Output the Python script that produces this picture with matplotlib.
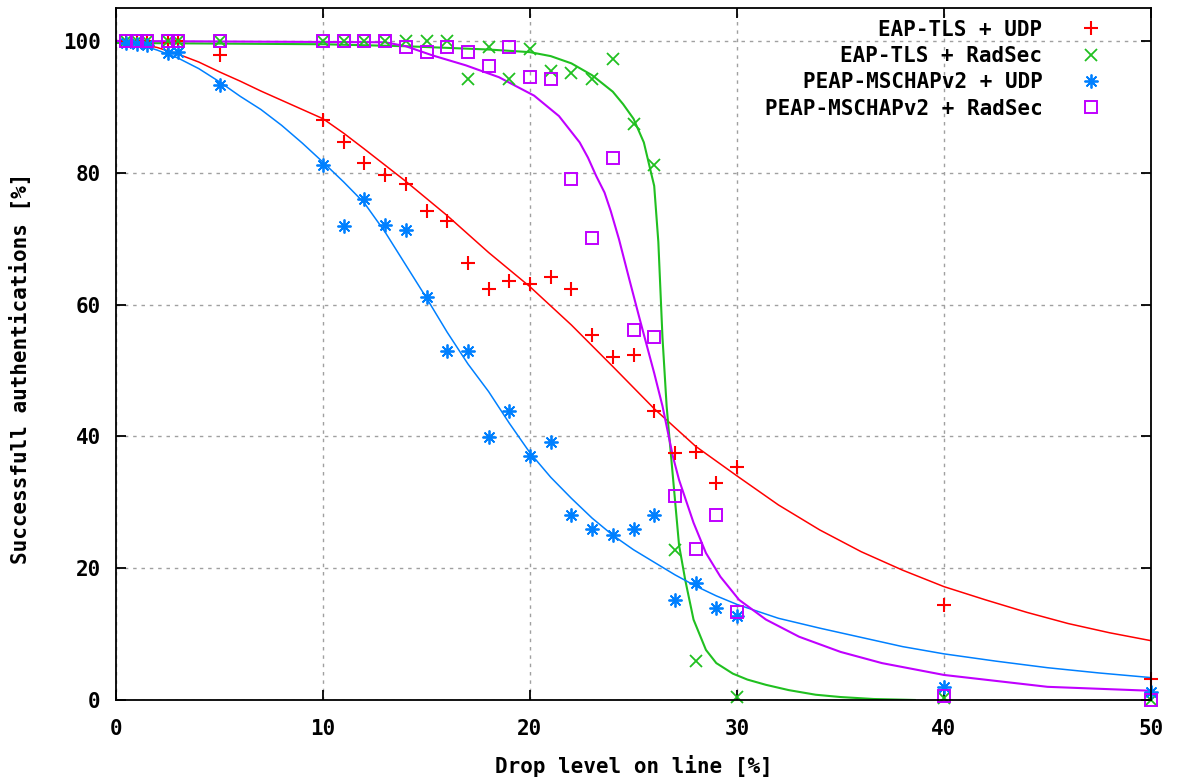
import matplotlib.pyplot as plt

# measured points (drop level %, successful auths %)
drop = [0.5, 1, 1.5, 2.5, 3, 5, 10, 11, 12, 13, 14, 15, 16, 17, 18, 19, 20,
        21, 22, 23, 24, 25, 26, 27, 28, 29, 30, 40, 50]
drop_tls_radsec = [0.5, 1, 1.5, 2.5, 3, 5, 10, 11, 12, 13, 14, 15, 16, 17, 18,
                   19, 20, 21, 22, 23, 24, 25, 26, 27, 28, 30, 40, 50]

tls_udp = [100, 100, 100, 99.7, 100, 97.8, 88.0, 84.6, 81.5, 79.7, 78.3, 74.2,
           72.7, 66.3, 62.3, 63.6, 63.1, 64.2, 62.3, 55.4, 52.1, 52.3, 43.9,
           37.5, 37.6, 32.9, 35.4, 14.4, 3.2]
tls_radsec = [100, 100, 100, 100, 100, 100, 100, 100, 100, 100, 100, 100, 100,
              94.3, 99.1, 94.2, 98.8, 95.5, 95.2, 94.2, 97.3, 87.4, 81.2, 22.8,
              5.9, 0.5, 0.3, 0]
peap_udp = [99.7, 99.6, 99.4, 98.1, 98.3, 93.3, 81.2, 71.9, 76.0, 72.0, 71.3,
            61.2, 52.9, 52.9, 39.9, 43.9, 37.0, 39.1, 28.1, 25.9, 25.1, 25.9,
            28.1, 15.2, 17.7, 13.9, 12.7, 2.0, 1.2]
peap_radsec = [100, 100, 100, 100, 100, 100, 100, 100, 100, 100, 99.1, 98.3,
               99.1, 98.3, 96.2, 99.1, 94.6, 94.3, 79.1, 70.1, 82.2, 56.1, 55.1,
               30.9, 22.9, 28.1, 13.3, 0.6, 0]

# fitted curves
fit_tls_udp_x = [0, 1, 2, 3, 4, 5, 6, 7, 8, 9, 10, 11, 12, 14, 16, 18, 20,
                 22, 24, 26, 28, 30, 32, 34, 36, 38, 40, 42, 44, 46, 48, 50]
fit_tls_udp_y = [100, 99.7, 99.0, 98.0, 96.8, 95.3, 93.9, 92.4, 91.0, 89.6,
                 88.2, 86.0, 83.6, 78.7, 73.5, 67.9, 62.7, 56.9, 50.6, 44.2,
                 38.5, 34.0, 29.6, 25.8, 22.5, 19.7, 17.2, 15.2, 13.3, 11.6,
                 10.2, 9.0]

fit_tls_radsec_x = [0, 10, 14, 18, 20, 21, 22, 23, 24, 24.5, 25, 25.5, 26,
                    26.2, 26.4, 26.6, 26.8, 27.0, 27.2, 27.5, 27.9, 28.5, 29,
                    29.8, 30.5, 31.4, 32.5, 33.8, 35, 36.6, 38.6]
fit_tls_radsec_y = [99.7, 99.5, 99.2, 98.7, 98.3, 97.7, 96.6, 94.8, 92.3, 90.4,
                    88.2, 84.6, 78.0, 69.5, 55.0, 44.6, 37.5, 30.5, 23.5, 18.2,
                    12.2, 7.6, 5.6, 4.0, 3.1, 2.3, 1.5, 0.8, 0.45, 0.15, 0.0]

fit_peap_udp_x = [0, 1, 2, 3, 4, 5, 6, 7, 8, 9, 10, 11, 12, 13, 14, 15, 16,
                  17, 18, 19, 20, 21, 22, 23, 24, 25, 26, 27, 28, 29, 30, 32,
                  34, 36, 38, 40, 42.5, 45, 47.5, 50]
fit_peap_udp_y = [100, 99.6, 98.6, 97.4, 95.8, 93.8, 91.6, 89.6, 87.2, 84.5,
                  81.6, 78.6, 75.4, 71.0, 66.0, 61.0, 55.8, 51.0, 46.8, 42.0,
                  37.5, 33.8, 30.6, 27.6, 25.0, 22.8, 20.9, 19.0, 17.3, 15.8,
                  14.5, 12.4, 10.9, 9.5, 8.1, 7.0, 5.9, 4.9, 4.1, 3.4]

fit_peap_radsec_x = [0, 13, 14, 15.3, 16.9, 18.5, 20.2, 21.4, 22.4, 22.8,
                     23.2, 23.6, 23.9, 24.3, 24.8, 25.3, 26.0, 26.4, 26.9,
                     27.2, 27.9, 28.5, 29.2, 30.1, 31.4, 33, 35, 37, 40, 45,
                     50]
fit_peap_radsec_y = [100, 99.8, 99.2, 97.8, 96.3, 94.5, 91.7, 88.6, 84.6,
                     82.3, 79.5, 77.0, 74.2, 69.9, 63.8, 57.8, 49.6, 44.6,
                     37.0, 33.4, 26.9, 22.3, 18.7, 15.2, 12.2, 9.6, 7.3, 5.6,
                     3.8, 2.0, 1.4]

red = "#ff0000"
green = "#20c020"
blue = "#0080ff"
magenta = "#c000ff"

plt.rcParams["font.family"] = "DejaVu Sans Mono"
plt.rcParams["font.weight"] = "bold"
fs = 15

fig = plt.figure(figsize=(11.81, 7.82), dpi=100)
ax = fig.add_axes([116 / 1181, 82 / 782, 1035 / 1181, 692 / 782])

ax.plot(fit_tls_udp_x, fit_tls_udp_y, color=red, lw=1.1)
ax.plot(fit_tls_radsec_x, fit_tls_radsec_y, color=green, lw=1.5)
ax.plot(fit_peap_udp_x, fit_peap_udp_y, color=blue, lw=1.1)
ax.plot(fit_peap_radsec_x, fit_peap_radsec_y, color=magenta, lw=1.5)

ax.plot(drop, tls_udp, ls="none", marker="+", ms=10, mew=1.5, color=red,
        label="EAP-TLS + UDP", clip_on=False)
ax.plot(drop_tls_radsec, tls_radsec, ls="none", marker="x", ms=9, mew=1.3,
        color=green, label="EAP-TLS + RadSec", clip_on=False)
ax.plot(drop, peap_udp, ls="none", marker=(8, 2, 0), ms=10, mew=1.3,
        color=blue, label="PEAP-MSCHAPv2 + UDP", clip_on=False)
ax.plot(drop, peap_radsec, ls="none", marker="s", ms=9, mew=1.4, mfc="none",
        color=magenta, label="PEAP-MSCHAPv2 + RadSec", clip_on=False)

ax.set_xlim(0, 50)
ax.set_ylim(0, 105)
ax.set_xticks([0, 10, 20, 30, 40, 50])
ax.set_yticks([0, 20, 40, 60, 80, 100])
ax.tick_params(direction="in", length=7, width=1.3, top=True, right=True,
               labelsize=fs)
ax.tick_params(axis="x", pad=14)
ax.tick_params(axis="y", pad=11)
for s in ax.spines.values():
    s.set_linewidth(1.3)

ax.grid(True, color="#a0a0a0", lw=1.0, linestyle=(0, (2.5, 3.5)))

ax.set_xlabel("Drop level on line [%]", fontsize=fs, fontweight="bold")
ax.set_ylabel("Successfull authentications [%]", fontsize=fs, fontweight="bold")
ax.xaxis.set_label_coords(0.5, -0.079)
ax.yaxis.set_label_coords(-0.082, 0.48)

ax.legend(loc="upper right", bbox_to_anchor=(0.9575, 0.983), frameon=False,
          markerfirst=False, numpoints=1, fontsize=fs, handlelength=1.5,
          handletextpad=1.6, labelspacing=0.3, borderpad=0, borderaxespad=0)

fig.savefig("out.png", dpi=100)
